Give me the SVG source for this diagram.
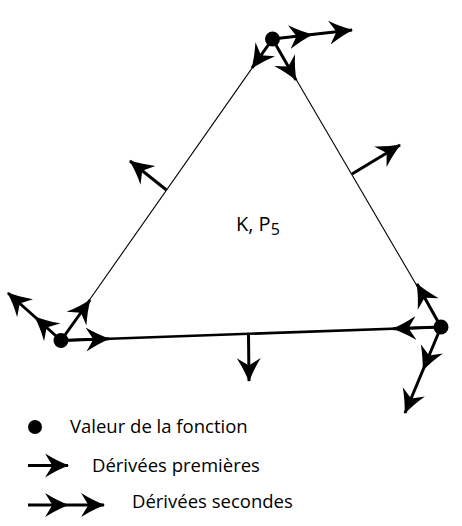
<svg xmlns="http://www.w3.org/2000/svg" width="462" height="526" viewBox="0 0 462 526">
<style>
.edge{fill:none;stroke:#000;stroke-width:1.1}
.edgeb{fill:none;stroke:#000;stroke-width:2.6}
.arr{fill:none;stroke:#000;stroke-width:3;marker-end:url(#head)}
.arr2{fill:none;stroke:#000;stroke-width:3;marker-mid:url(#head);marker-end:url(#head)}
.dot{fill:#000}
.t{font-family:"Open Sans","Noto Sans",sans-serif;fill:#000}
</style>
<defs>
<marker id="head" viewBox="0 0 24 24" refX="22" refY="12" markerWidth="25" markerHeight="25" markerUnits="userSpaceOnUse" orient="auto">
<path d="M23,12 Q12,8 0,0.5 L7,12 L0,23.5 Q12,16 23,12 Z" fill="#000"/>
</marker>
</defs>
<g id="edges">
<line class="edge" x1="272.5" y1="39" x2="61" y2="340.5"/>
<line class="edge" x1="272.5" y1="39" x2="441" y2="327"/>
<line class="edgeb" x1="61" y1="340.5" x2="441" y2="327"/>
</g>
<g id="connectors">
<polyline class="arr2" points="272.5,39 312,34.5 352,30"/>
<line class="arr" x1="272.5" y1="39" x2="252" y2="68"/>
<line class="arr" x1="272.5" y1="39" x2="296" y2="80"/>
<polyline class="arr2" points="61,340.5 35,317 8,293"/>
<line class="arr" x1="61" y1="340.5" x2="90" y2="300"/>
<line class="arr" x1="61" y1="340.5" x2="109" y2="338.8"/>
<line class="arr" x1="441" y1="327" x2="417" y2="284"/>
<line class="arr" x1="441" y1="327" x2="393" y2="328.7"/>
<polyline class="arr2" points="441,327 423,370 405,413"/>
<line class="arr" x1="166.5" y1="190" x2="130" y2="161"/>
<line class="arr" x1="352" y1="174" x2="400" y2="145"/>
<line class="arr" x1="248.5" y1="334.6" x2="249" y2="381"/>
</g>
<g id="vertex-top"><circle class="dot" cx="272.5" cy="39" r="7.5"/></g>
<g id="vertex-left"><circle class="dot" cx="61" cy="340.5" r="7.5"/></g>
<g id="vertex-right"><circle class="dot" cx="441" cy="327" r="7.5"/></g>
<g id="label"><text class="t" x="236" y="231" font-size="20">K, P<tspan font-size="16" dy="4">5</tspan></text></g>
<g id="legend">
<circle class="dot" cx="35" cy="427" r="7"/>
<text class="t" x="70" y="433" font-size="18.5">Valeur de la fonction</text>
<line class="arr" x1="28" y1="465.5" x2="68" y2="465.5"/>
<text class="t" x="92" y="472" font-size="18.5">Dérivées premières</text>
<polyline class="arr2" points="28,505 68,505 104,505"/>
<text class="t" x="132" y="508" font-size="18.5">Dérivées secondes</text>
</g>
</svg>
